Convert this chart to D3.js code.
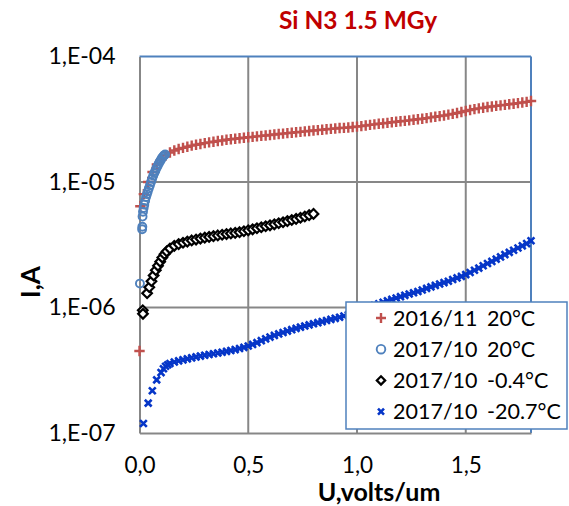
<!DOCTYPE html>
<html>
<head>
<meta charset="utf-8">
<script src="https://cdn.jsdelivr.net/npm/d3@7"></script>
<style>
  html, body { margin: 0; padding: 0; background: #fff; }
  svg { display: block; }
</style>
</head>
<body>
<svg id="chart" width="569" height="506"></svg>
<script>
// Leakage current vs. field for Si N3 after 1.5 MGy, four measurement runs.

const seriesNames = ["2016/11", "2017/10", "2017/10", "2017/10"];
const seriesTemps = ["20°C", "20°C", "-0.4°C", "-20.7°C"];

const xTicks = [0, 0.5, 1.0, 1.5];
const xTickLabels = ["0,0", "0,5", "1,0", "1,5"];
const yTicks = [1e-7, 1e-6, 1e-5, 1e-4];
const yTickLabels = ["1,E-07", "1,E-06", "1,E-05", "1,E-04"];

// 2016/11, 20°C  — [U (V/um), I (A)]
const run2016_20C = [
  [0.000, 4.5e-7], [0.004, 6.4e-6], [0.02, 8.0e-6], [0.04, 1.0e-5], [0.06, 1.2e-5],
  [0.08, 1.38e-5], [0.10, 1.52e-5], [0.12, 1.63e-5], [0.14, 1.72e-5], [0.16, 1.78e-5],
  [0.18, 1.83e-5], [0.20, 1.87e-5], [0.22, 1.91e-5], [0.24, 1.95e-5], [0.26, 1.98e-5],
  [0.28, 2.01e-5], [0.30, 2.04e-5], [0.32, 2.07e-5], [0.34, 2.09e-5], [0.36, 2.12e-5],
  [0.38, 2.14e-5], [0.40, 2.17e-5], [0.42, 2.19e-5], [0.44, 2.21e-5], [0.46, 2.23e-5],
  [0.48, 2.25e-5], [0.50, 2.27e-5], [0.52, 2.29e-5], [0.54, 2.31e-5], [0.56, 2.33e-5],
  [0.58, 2.35e-5], [0.60, 2.37e-5], [0.62, 2.39e-5], [0.64, 2.41e-5], [0.66, 2.43e-5],
  [0.68, 2.45e-5], [0.70, 2.47e-5], [0.72, 2.49e-5], [0.74, 2.51e-5], [0.76, 2.53e-5],
  [0.78, 2.55e-5], [0.80, 2.57e-5], [0.82, 2.59e-5], [0.84, 2.61e-5], [0.86, 2.63e-5],
  [0.88, 2.65e-5], [0.90, 2.67e-5], [0.92, 2.69e-5], [0.94, 2.70e-5], [0.96, 2.72e-5],
  [0.98, 2.74e-5], [1.00, 2.76e-5], [1.02, 2.79e-5], [1.04, 2.82e-5], [1.06, 2.85e-5],
  [1.08, 2.88e-5], [1.10, 2.91e-5], [1.12, 2.93e-5], [1.14, 2.96e-5], [1.16, 2.99e-5],
  [1.18, 3.02e-5], [1.20, 3.05e-5], [1.22, 3.07e-5], [1.24, 3.10e-5], [1.26, 3.13e-5],
  [1.28, 3.16e-5], [1.30, 3.19e-5], [1.32, 3.23e-5], [1.34, 3.27e-5], [1.36, 3.31e-5],
  [1.38, 3.35e-5], [1.40, 3.39e-5], [1.42, 3.44e-5], [1.44, 3.49e-5], [1.46, 3.55e-5],
  [1.48, 3.61e-5], [1.50, 3.68e-5], [1.52, 3.75e-5], [1.54, 3.81e-5], [1.56, 3.86e-5],
  [1.58, 3.91e-5], [1.60, 3.96e-5], [1.62, 4.00e-5], [1.64, 4.04e-5], [1.66, 4.08e-5],
  [1.68, 4.12e-5], [1.70, 4.16e-5], [1.72, 4.20e-5], [1.74, 4.25e-5], [1.76, 4.30e-5],
  [1.78, 4.35e-5], [1.80, 4.42e-5]
];

// 2017/10, 20°C
const run2017_20C = [
  [0.002, 1.55e-6], [0.012, 4.2e-6], [0.013, 4.4e-6], [0.014, 5.3e-6], [0.016, 5.8e-6],
  [0.019, 6.2e-6], [0.022, 6.6e-6], [0.026, 7.1e-6], [0.030, 7.6e-6], [0.034, 8.0e-6],
  [0.038, 8.4e-6], [0.043, 8.9e-6], [0.048, 9.4e-6], [0.053, 1.0e-5], [0.058, 1.06e-5],
  [0.063, 1.12e-5], [0.068, 1.18e-5], [0.073, 1.23e-5], [0.078, 1.29e-5], [0.083, 1.34e-5],
  [0.088, 1.40e-5], [0.093, 1.45e-5], [0.098, 1.50e-5], [0.103, 1.55e-5], [0.108, 1.59e-5],
  [0.113, 1.63e-5], [0.118, 1.66e-5]
];

// 2017/10, -0.4°C
const run2017_m04C = [
  [0.015, 9.5e-7], [0.016, 8.9e-7], [0.035, 1.30e-6], [0.045, 1.45e-6], [0.055, 1.62e-6],
  [0.065, 1.80e-6], [0.075, 1.98e-6], [0.085, 2.15e-6], [0.095, 2.32e-6], [0.105, 2.50e-6],
  [0.115, 2.66e-6], [0.125, 2.80e-6], [0.14, 2.95e-6], [0.16, 3.10e-6], [0.18, 3.20e-6],
  [0.20, 3.28e-6], [0.22, 3.35e-6], [0.24, 3.42e-6], [0.26, 3.48e-6], [0.28, 3.54e-6],
  [0.30, 3.60e-6], [0.32, 3.65e-6], [0.34, 3.70e-6], [0.36, 3.75e-6], [0.38, 3.80e-6],
  [0.40, 3.85e-6], [0.42, 3.89e-6], [0.44, 3.93e-6], [0.46, 3.98e-6], [0.48, 4.05e-6],
  [0.50, 4.12e-6], [0.52, 4.20e-6], [0.54, 4.28e-6], [0.56, 4.36e-6], [0.58, 4.44e-6],
  [0.60, 4.52e-6], [0.62, 4.60e-6], [0.64, 4.69e-6], [0.66, 4.78e-6], [0.68, 4.88e-6],
  [0.70, 4.98e-6], [0.72, 5.08e-6], [0.74, 5.19e-6], [0.76, 5.31e-6], [0.78, 5.44e-6],
  [0.80, 5.57e-6]
];

// 2017/10, -20.7°C
const run2017_m207C = [
  [0.018, 1.19e-7], [0.040, 1.73e-7], [0.059, 2.17e-7], [0.079, 2.65e-7], [0.099, 3.03e-7],
  [0.110, 3.25e-7], [0.120, 3.40e-7], [0.13, 3.50e-7], [0.14, 3.58e-7], [0.16, 3.68e-7],
  [0.18, 3.76e-7], [0.20, 3.83e-7], [0.22, 3.90e-7], [0.24, 3.97e-7], [0.26, 4.04e-7],
  [0.28, 4.10e-7], [0.30, 4.16e-7], [0.32, 4.22e-7], [0.34, 4.28e-7], [0.36, 4.34e-7],
  [0.38, 4.40e-7], [0.40, 4.47e-7], [0.42, 4.54e-7], [0.44, 4.62e-7], [0.46, 4.71e-7],
  [0.48, 4.81e-7], [0.50, 4.93e-7], [0.52, 5.08e-7], [0.54, 5.25e-7], [0.56, 5.44e-7],
  [0.58, 5.63e-7], [0.60, 5.81e-7], [0.62, 5.99e-7], [0.64, 6.16e-7], [0.66, 6.32e-7],
  [0.68, 6.49e-7], [0.70, 6.66e-7], [0.72, 6.82e-7], [0.74, 6.97e-7], [0.76, 7.12e-7],
  [0.78, 7.27e-7], [0.80, 7.42e-7], [0.82, 7.57e-7], [0.84, 7.72e-7], [0.86, 7.88e-7],
  [0.88, 8.04e-7], [0.90, 8.20e-7], [0.92, 8.37e-7], [0.94, 8.55e-7], [0.96, 8.75e-7],
  [0.98, 8.95e-7], [1.00, 9.20e-7], [1.02, 9.50e-7], [1.04, 9.80e-7], [1.06, 1.01e-6],
  [1.08, 1.04e-6], [1.10, 1.07e-6], [1.12, 1.10e-6], [1.14, 1.13e-6], [1.16, 1.16e-6],
  [1.18, 1.19e-6], [1.20, 1.22e-6], [1.22, 1.25e-6], [1.24, 1.28e-6], [1.26, 1.31e-6],
  [1.28, 1.34e-6], [1.30, 1.38e-6], [1.32, 1.42e-6], [1.34, 1.46e-6], [1.36, 1.50e-6],
  [1.38, 1.54e-6], [1.40, 1.58e-6], [1.42, 1.62e-6], [1.44, 1.67e-6], [1.46, 1.72e-6],
  [1.48, 1.77e-6], [1.50, 1.83e-6], [1.52, 1.90e-6], [1.54, 1.98e-6], [1.56, 2.06e-6],
  [1.58, 2.15e-6], [1.60, 2.24e-6], [1.62, 2.33e-6], [1.64, 2.43e-6], [1.66, 2.53e-6],
  [1.68, 2.64e-6], [1.70, 2.75e-6], [1.72, 2.86e-6], [1.74, 2.98e-6], [1.76, 3.10e-6],
  [1.78, 3.23e-6], [1.80, 3.40e-6]
];

const FONT = "Lato, 'Open Sans', sans-serif";
const svg = d3.select("#chart");

const plot = { left: 139.5, right: 531, top: 56.5, bottom: 433 };
const x = d3.scaleLinear().domain([0, 1.8]).range([plot.left, plot.right]);
const y = d3.scaleLog().domain([1e-7, 1e-4]).range([plot.bottom, plot.top]);

const gridColor = "#878787";
const frameColor = "#4F81BD";

// gridlines
const grid = svg.append("g");
grid.selectAll("line.gx").data(xTicks.slice(1)).enter().append("line")
  .attr("x1", d => x(d)).attr("x2", d => x(d))
  .attr("y1", plot.top).attr("y2", plot.bottom)
  .attr("stroke", gridColor).attr("stroke-width", 2);
grid.selectAll("line.gy").data(yTicks.slice(1, 3)).enter().append("line")
  .attr("x1", plot.left).attr("x2", plot.right)
  .attr("y1", d => y(d)).attr("y2", d => y(d))
  .attr("stroke", gridColor).attr("stroke-width", 2);

// plot frame: blue top and right, grey axes on left and bottom
svg.append("line").attr("x1", plot.left).attr("x2", plot.right)
  .attr("y1", plot.top).attr("y2", plot.top)
  .attr("stroke", frameColor).attr("stroke-width", 2);
svg.append("line").attr("x1", plot.right).attr("x2", plot.right)
  .attr("y1", plot.top).attr("y2", plot.bottom)
  .attr("stroke", frameColor).attr("stroke-width", 2);

// axes
const xAxis = d3.axisBottom(x).tickValues(xTicks)
  .tickFormat((d, i) => xTickLabels[i]).tickSize(0).tickPadding(24);
const gx = svg.append("g").attr("transform", `translate(0,${plot.bottom})`).call(xAxis);
gx.select(".domain").attr("stroke", gridColor).attr("stroke-width", 2);
gx.selectAll("text").attr("font-family", FONT).attr("font-size", 22.5).attr("fill", "#000");

const yAxis = d3.axisLeft(y).tickValues(yTicks)
  .tickFormat((d, i) => yTickLabels[i]).tickSize(0).tickPadding(24);
const gy = svg.append("g").attr("transform", `translate(${plot.left},0)`).call(yAxis);
gy.select(".domain").attr("stroke", gridColor).attr("stroke-width", 2);
gy.selectAll("text").attr("font-family", FONT).attr("font-size", 23).attr("fill", "#000");

// marker shapes
function plusPath(s) { return `M${-s},0H${s}M0,${-s}V${s}`; }
function crossPath(s) { return `M${-s},${-s}L${s},${s}M${-s},${s}L${s},${-s}`; }
function diamondPath(s) { return `M0,${-s}L${s},0L0,${s}L${-s},0Z`; }

const styles = [
  { data: run2016_20C, draw: (g, s) => g.append("path").attr("d", plusPath(s.r))
      .attr("stroke", "#C0504D").attr("stroke-width", 2.4).attr("fill", "none"), r: 5.2 },
  { data: run2017_20C, draw: (g, s) => g.append("circle").attr("r", s.r)
      .attr("stroke", "#4F81BD").attr("stroke-width", 1.9).attr("fill", "none"), r: 4 },
  { data: run2017_m04C, draw: (g, s) => g.append("path").attr("d", diamondPath(s.r))
      .attr("stroke", "#000").attr("stroke-width", 2.2).attr("fill", "#fff"), r: 4.8 },
  { data: run2017_m207C, draw: (g, s) => g.append("path").attr("d", crossPath(s.r))
      .attr("stroke", "#0636C8").attr("stroke-width", 2.6).attr("fill", "none"), r: 3.4 }
];

styles.forEach(s => {
  const layer = svg.append("g");
  layer.selectAll("g").data(s.data).enter().append("g")
    .attr("transform", d => `translate(${x(d[0])},${y(d[1])})`)
    .each(function () { s.draw(d3.select(this), s); });
});

// legend
const legend = svg.append("g");
legend.append("rect").attr("x", 346).attr("y", 302).attr("width", 221).attr("height", 127)
  .attr("fill", "#fff").attr("stroke", frameColor).attr("stroke-width", 1.5);
const legendMarkSizes = [5, 4.3, 4.2, 3];
styles.forEach((s, i) => {
  const rowY = 318 + i * 31.2;
  const mg = legend.append("g").attr("transform", `translate(381,${rowY})`);
  s.draw(mg, { r: legendMarkSizes[i] });
  legend.append("text").attr("x", 393).attr("y", rowY).attr("dy", "0.36em")
    .attr("font-family", FONT).attr("font-size", 21.5).text(seriesNames[i]);
  legend.append("text").attr("x", 487).attr("y", rowY).attr("dy", "0.36em")
    .attr("font-family", FONT).attr("font-size", 21.5).text(seriesTemps[i]);
});

// title and axis titles
svg.append("text").attr("x", 358).attr("y", 29).attr("text-anchor", "middle")
  .attr("font-family", FONT).attr("font-weight", "bold").attr("font-size", 24.5)
  .attr("fill", "#C00000").text("Si N3 1.5 MGy");

svg.append("text").attr("x", 379).attr("y", 501).attr("text-anchor", "middle")
  .attr("font-family", FONT).attr("font-weight", "bold").attr("font-size", 25)
  .attr("fill", "#000").text("U,volts/um");

svg.append("text").attr("transform", "translate(40,282) rotate(-90)")
  .attr("text-anchor", "middle")
  .attr("font-family", FONT).attr("font-weight", "bold").attr("font-size", 26)
  .attr("fill", "#000").text("I,A");
</script>
</body>
</html>
